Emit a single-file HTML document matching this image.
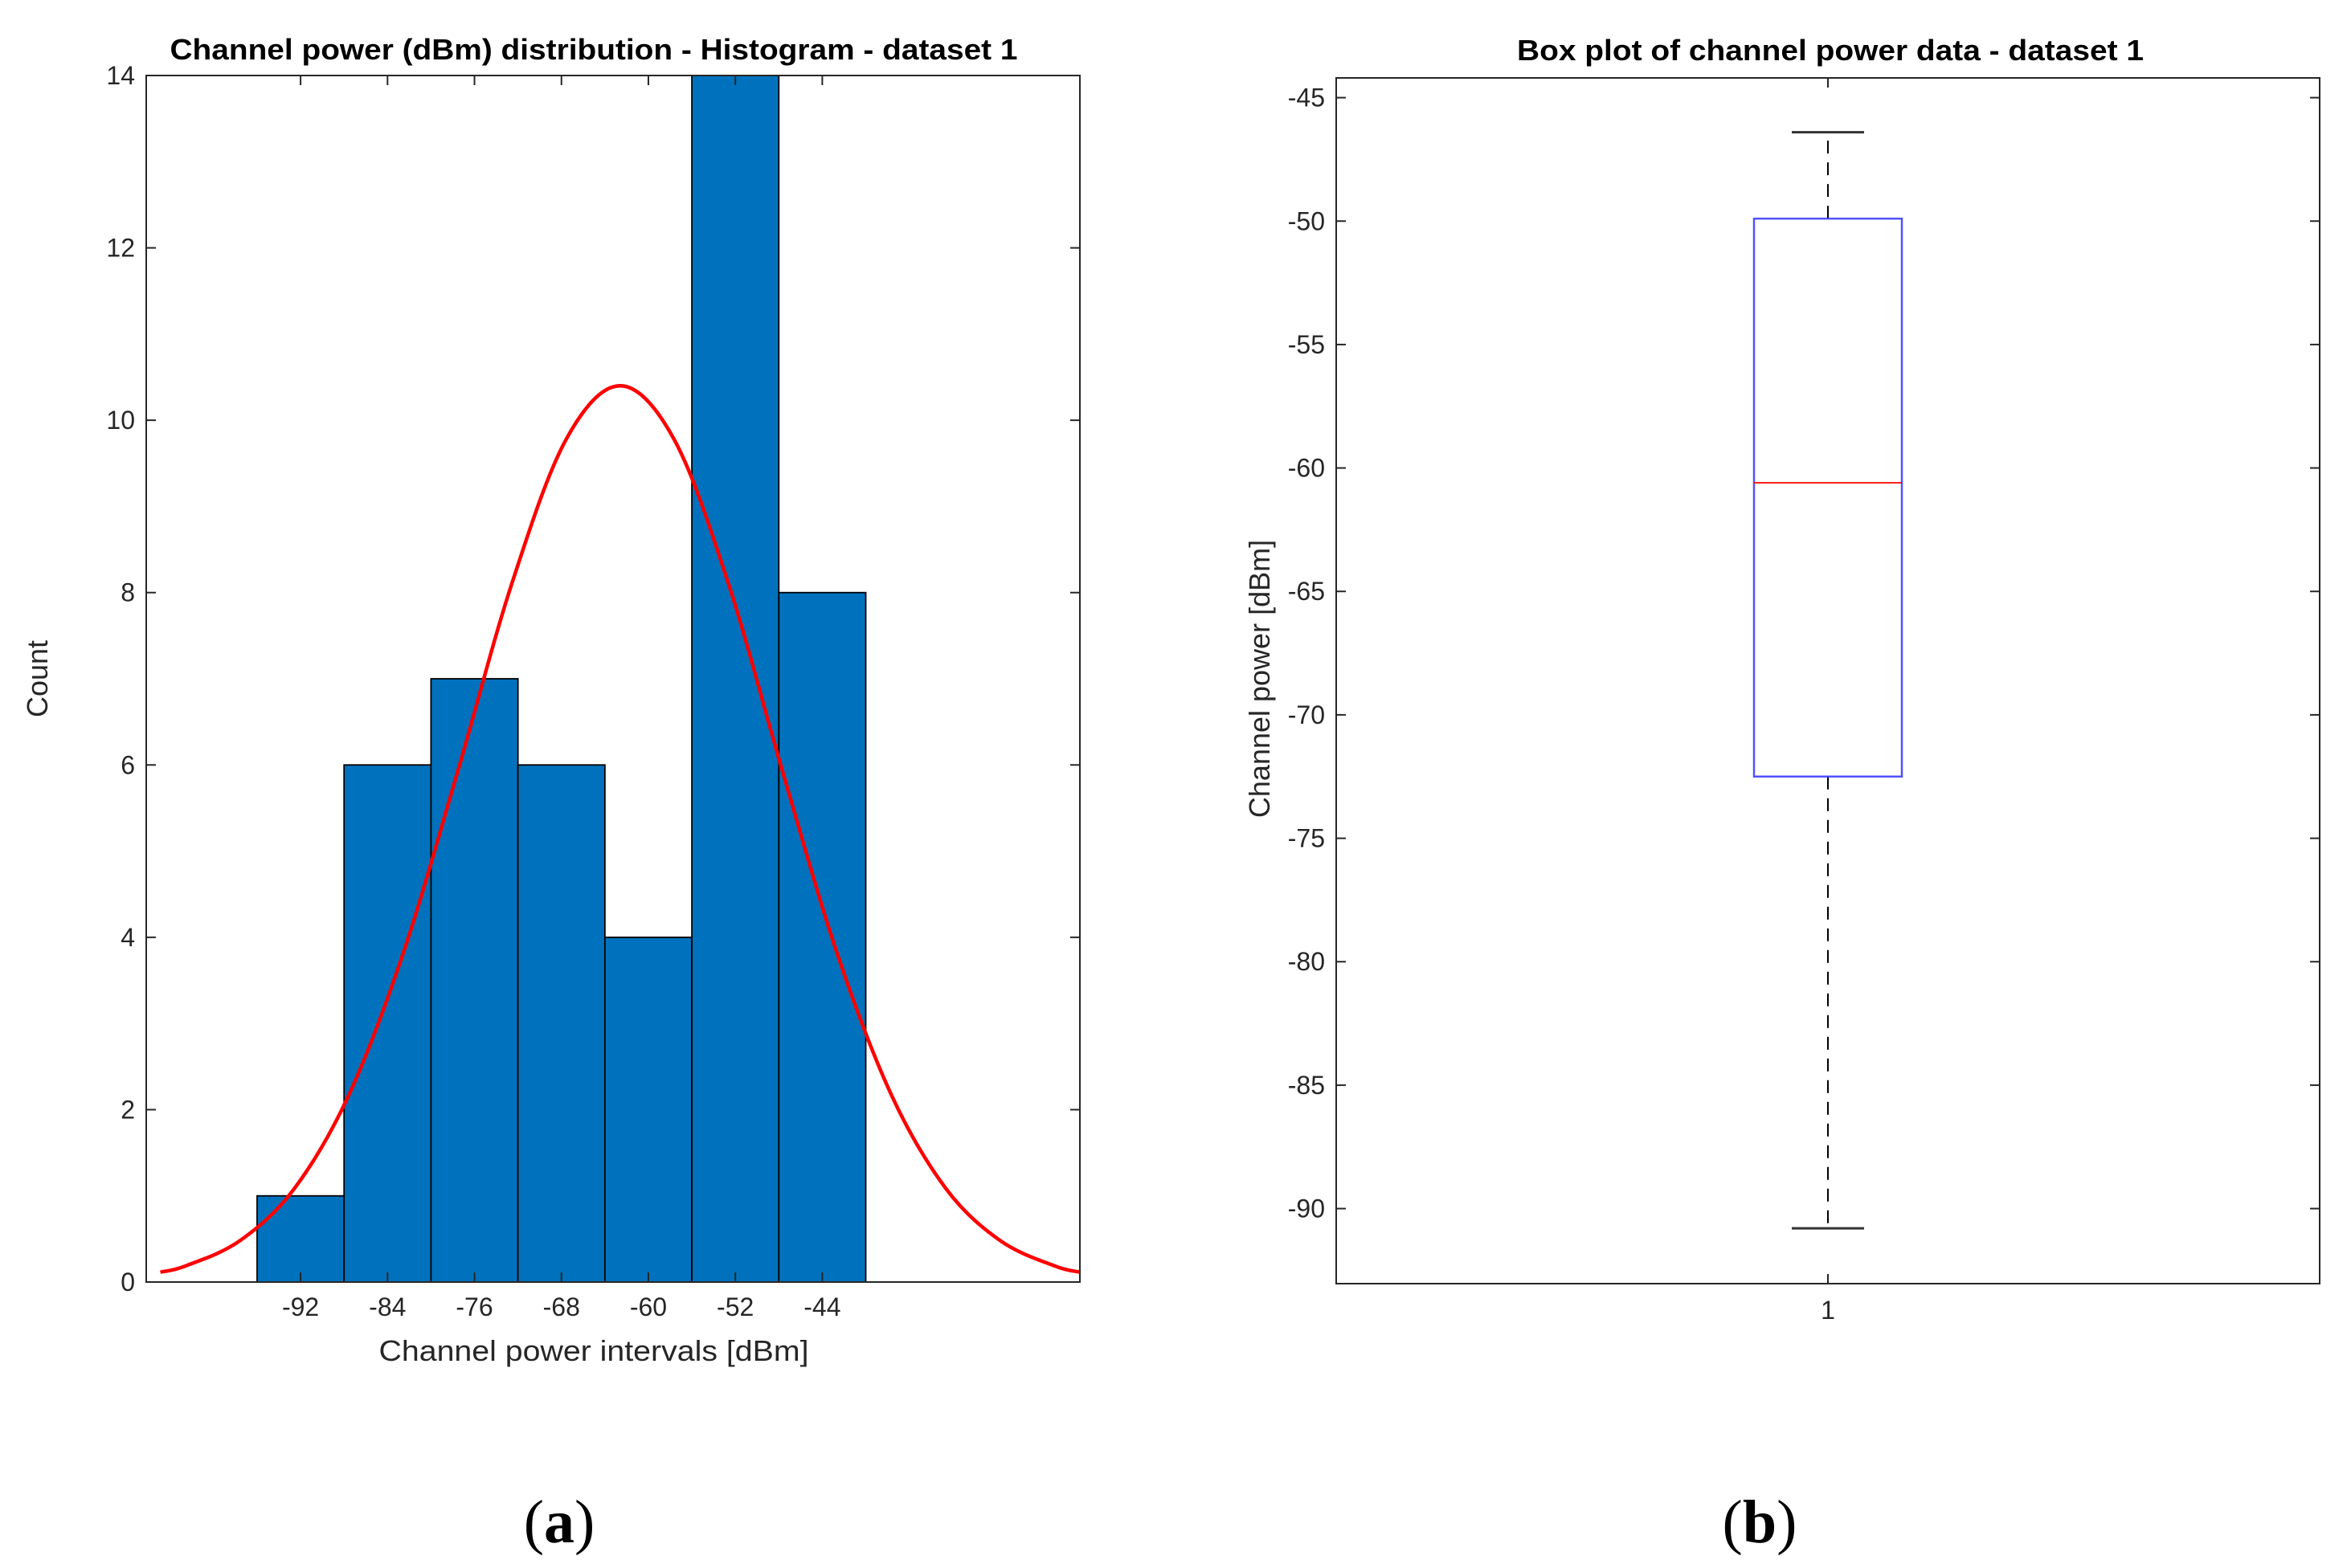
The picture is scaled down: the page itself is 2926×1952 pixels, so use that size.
<!DOCTYPE html>
<html><head><meta charset="utf-8"><style>
html,body{margin:0;padding:0;background:#fff;}
svg{display:block;font-family:"Liberation Sans",sans-serif;}
</style></head><body>
<svg id="fig" width="2926" height="1952" viewBox="0 0 2926 1952" xmlns="http://www.w3.org/2000/svg">
<rect width="2926" height="1952" fill="#fff"/>
<g id="hist"></g>
<g id="box"></g>
<text x="696" y="1920" font-family="'Liberation Serif',serif" font-size="76" text-anchor="middle">(<tspan font-weight="bold">a</tspan>)</text>
<text x="2190" y="1920" font-family="'Liberation Serif',serif" font-size="76" text-anchor="middle">(<tspan font-weight="bold">b</tspan>)</text>
</svg>
<script>
// Histogram data
const binCenters = [-92, -84, -76, -68, -60, -52, -44];
const binCounts = [1, 6, 7, 6, 4, 14, 8];
const binWidth = 8;
const histXTicks = [-92, -84, -76, -68, -60, -52, -44];
const histYTicks = [0, 2, 4, 6, 8, 10, 12, 14];
// Fitted normal curve samples
const fitX = [-104.9,-102.6,-97.6,-92.6,-87.6,-82.6,-77.6,-72.6,-67.6,-62.6,-57.6,-52.6,-47.6,-42.6,-37.6,-32.6,-27.6,-22.6,-20.3];
const fitY = [0.115,0.186,0.478,1.08,2.16,3.80,5.90,8.09,9.77,10.4,9.77,8.09,5.90,3.80,2.16,1.08,0.478,0.186,0.115];
// Box plot data
const boxStats = {whiskerLow: -90.8, q1: -72.5, median: -60.6, q3: -49.9, whiskerHigh: -46.4};
const boxYTicks = [-90, -85, -80, -75, -70, -65, -60, -55, -50, -45];
const boxXTicks = [1];

const NS = "http://www.w3.org/2000/svg";
function mk(parent, tag, attrs, text){
  const e = document.createElementNS(NS, tag);
  for (const k in attrs) e.setAttribute(k, attrs[k]);
  if (text !== undefined) e.textContent = text;
  parent.appendChild(e);
  return e;
}
const TICK_FS = 32, TICK_COLOR = "#262626";

// ---------- Histogram ----------
(function(){
  const g = document.getElementById('hist');
  const L=182, R=1344, T=94, B=1596;
  const xMin=-106.2, xMax=-20.3, yMin=0, yMax=14;
  const sx = v => L + (v - xMin) / (xMax - xMin) * (R - L);
  const sy = v => B - (v - yMin) / (yMax - yMin) * (B - T);
  binCenters.forEach((c, i) => {
    const r = mk(g, 'rect', {x: sx(c - binWidth/2), y: sy(binCounts[i]), width: sx(c + binWidth/2) - sx(c - binWidth/2), height: B - sy(binCounts[i]), fill: '#0072bd', stroke: '#000', 'stroke-width': 1.8});
    
    
  });
  const pts = fitX.map((x, i) => [sx(x), sy(fitY[i])]);
  let d = 'M' + pts[0][0] + ',' + pts[0][1];
  for (let i = 0; i < pts.length - 1; i++) {
    const p0 = pts[Math.max(i-1,0)], p1 = pts[i], p2 = pts[i+1], p3 = pts[Math.min(i+2, pts.length-1)];
    const c1 = [p1[0] + (p2[0]-p0[0])/6, p1[1] + (p2[1]-p0[1])/6];
    const c2 = [p2[0] - (p3[0]-p1[0])/6, p2[1] - (p3[1]-p1[1])/6];
    d += ' C' + c1 + ' ' + c2 + ' ' + p2;
  }
  const cl = mk(g, 'path', {d: d, fill: 'none', stroke: '#ff0000', 'stroke-width': 4.5});
  
  
  const ax = mk(g, 'rect', {x: L, y: T, width: R-L, height: B-T, fill: 'none', stroke: '#262626', 'stroke-width': 2});
  
  
  histXTicks.forEach(v => {
    mk(g, 'line', {x1: sx(v), x2: sx(v), y1: B, y2: B-12, stroke: '#262626', 'stroke-width': 2});
    mk(g, 'line', {x1: sx(v), x2: sx(v), y1: T, y2: T+12, stroke: '#262626', 'stroke-width': 2});
    const t = mk(g, 'text', {x: sx(v), y: B + 42, 'font-size': TICK_FS, 'text-anchor': 'middle', fill: TICK_COLOR}, v);
    
    
  });
  histYTicks.forEach(v => {
    mk(g, 'line', {x1: L, x2: L+12, y1: sy(v), y2: sy(v), stroke: '#262626', 'stroke-width': 2});
    mk(g, 'line', {x1: R, x2: R-12, y1: sy(v), y2: sy(v), stroke: '#262626', 'stroke-width': 2});
    const t = mk(g, 'text', {x: L - 14, y: sy(v) + 11, 'font-size': TICK_FS, 'text-anchor': 'end', fill: TICK_COLOR}, v);
    
    
  });
  const ti = mk(g, 'text', {x: 739, y: 74, 'font-size': 36, 'font-weight': 'bold', 'text-anchor': 'middle', fill: '#000', textLength: 1055, lengthAdjust: 'spacingAndGlyphs'}, 'Channel power (dBm) distribution - Histogram - dataset 1');
  
  
  const xlab = mk(g, 'text', {x: 739, y: 1694, 'font-size': 36, 'text-anchor': 'middle', fill: TICK_COLOR, textLength: 535, lengthAdjust: 'spacingAndGlyphs'}, 'Channel power intervals [dBm]');
  
  
  const yl = mk(g, 'text', {x: 0, y: 0, 'font-size': 36, 'text-anchor': 'middle', fill: TICK_COLOR, transform: 'translate(59,845) rotate(-90)'}, 'Count');
  
  
})();

// ---------- Box plot ----------
(function(){
  const g = document.getElementById('box');
  const L=1663, R=2887, T=97, B=1598;
  const yMin=-93.04, yMax=-44.2;
  const sy = v => B - (v - yMin) / (yMax - yMin) * (B - T);
  const sx = v => L + (v - 0.5) * (R - L);
  const cx = sx(1), hw = 92, cap = 45;
  const wu = mk(g, 'line', {x1: cx, x2: cx, y1: sy(boxStats.q3), y2: sy(boxStats.whiskerHigh), stroke: '#000', 'stroke-width': 2, 'stroke-dasharray': '16,11'});
  
  
  const wl = mk(g, 'line', {x1: cx, x2: cx, y1: sy(boxStats.q1), y2: sy(boxStats.whiskerLow), stroke: '#000', 'stroke-width': 2, 'stroke-dasharray': '16,11'});
  
  
  const cu = mk(g, 'line', {x1: cx-cap, x2: cx+cap, y1: sy(boxStats.whiskerHigh), y2: sy(boxStats.whiskerHigh), stroke: '#333', 'stroke-width': 3});
  
  
  const cd = mk(g, 'line', {x1: cx-cap, x2: cx+cap, y1: sy(boxStats.whiskerLow), y2: sy(boxStats.whiskerLow), stroke: '#333', 'stroke-width': 3});
  
  
  const bx = mk(g, 'rect', {x: cx-hw, y: sy(boxStats.q3), width: 2*hw, height: sy(boxStats.q1) - sy(boxStats.q3), fill: 'none', stroke: '#3333ff', 'stroke-width': 2.5, opacity: 0.85});
  
  
  const md = mk(g, 'line', {x1: cx-hw, x2: cx+hw, y1: sy(boxStats.median), y2: sy(boxStats.median), stroke: '#ff0000', 'stroke-width': 1.8});
  
  
  const ax = mk(g, 'rect', {x: L, y: T, width: R-L, height: B-T, fill: 'none', stroke: '#262626', 'stroke-width': 2});
  
  
  boxYTicks.forEach(v => {
    mk(g, 'line', {x1: L, x2: L+12, y1: sy(v), y2: sy(v), stroke: '#262626', 'stroke-width': 2});
    mk(g, 'line', {x1: R, x2: R-12, y1: sy(v), y2: sy(v), stroke: '#262626', 'stroke-width': 2});
    const t = mk(g, 'text', {x: L - 14, y: sy(v) + 11, 'font-size': TICK_FS, 'text-anchor': 'end', fill: TICK_COLOR}, v);
    
    
  });
  boxXTicks.forEach(v => {
    mk(g, 'line', {x1: sx(v), x2: sx(v), y1: B, y2: B-12, stroke: '#262626', 'stroke-width': 2});
    mk(g, 'line', {x1: sx(v), x2: sx(v), y1: T, y2: T+12, stroke: '#262626', 'stroke-width': 2});
    const t = mk(g, 'text', {x: sx(v), y: B + 44, 'font-size': TICK_FS, 'text-anchor': 'middle', fill: TICK_COLOR}, v);
    
    
  });
  const ti = mk(g, 'text', {x: 2278, y: 75, 'font-size': 36, 'font-weight': 'bold', 'text-anchor': 'middle', fill: '#000', textLength: 780, lengthAdjust: 'spacingAndGlyphs'}, 'Box plot of channel power data - dataset 1');
  
  
  const yl = mk(g, 'text', {x: 0, y: 0, 'font-size': 36, 'text-anchor': 'middle', fill: TICK_COLOR, transform: 'translate(1580,845) rotate(-90)'}, 'Channel power [dBm]');
  
  
})();
</script>
</body></html>
